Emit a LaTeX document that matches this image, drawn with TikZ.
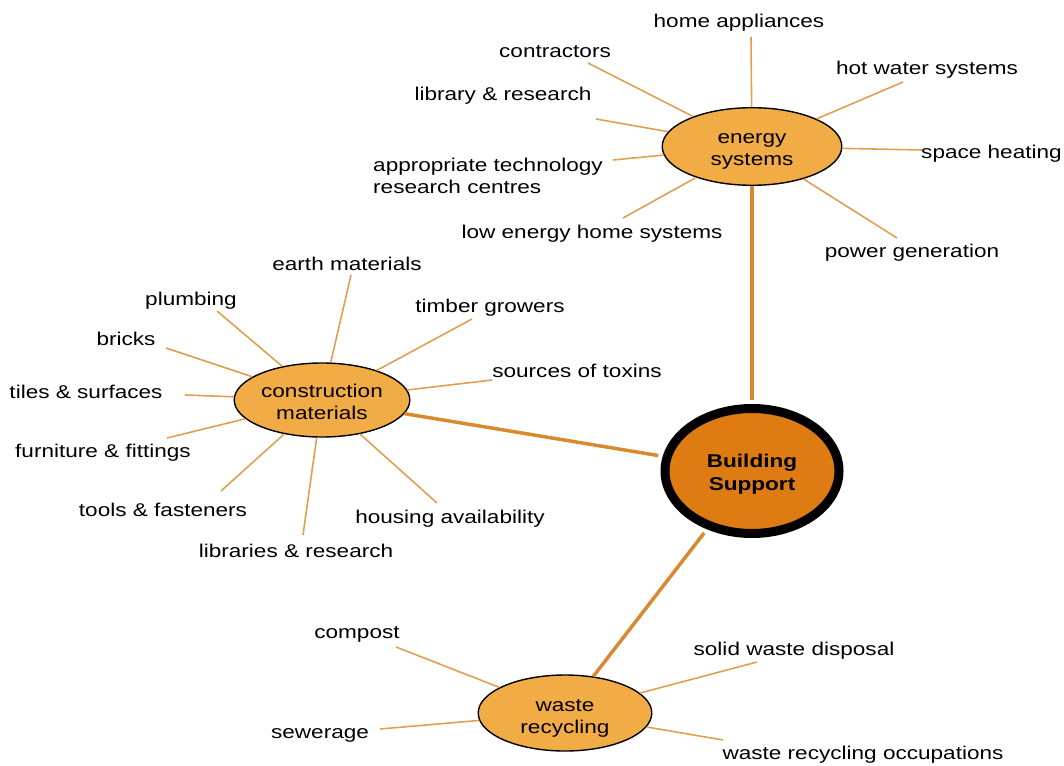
\documentclass[tikz,border=0pt]{standalone}
\usepackage{fontspec}
\setmainfont{Liberation Sans}[FakeStretch=1.22]
\usetikzlibrary{shapes.geometric}
\definecolor{spoke}{HTML}{E0A050}
\definecolor{thick}{HTML}{D98A2E}
\definecolor{topicfill}{HTML}{F2AC45}
\definecolor{hubfill}{HTML}{DE7B12}
\begin{document}
\begin{tikzpicture}[x=1pt,y=-1pt,
  every node/.style={font=\fontsize{18.5}{22}\selectfont, inner sep=0pt},
  topic/.style={ellipse, draw=black, line width=1.4pt, fill=topicfill},
  hub/.style={ellipse, draw=black, line width=9pt, fill=hubfill},
  intext/.style={align=center, text=black, yshift=-2.5pt},
  lbl/.style={align=left, text=black, yshift=-2.5pt},
  spokeline/.style={draw=spoke, line width=1.6pt},
  link/.style={draw=thick, line width=3.5pt}]
\useasboundingbox (0,0) rectangle (1064,765);

% hub and topics
\node[hub, minimum width=174pt, minimum height=125pt] (bs) at (752,471) {};
\node[topic, minimum width=179.6pt, minimum height=77.6pt] (es) at (752,146.5) {};
\node[topic, minimum width=175.6pt, minimum height=74pt] (cm) at (322,400) {};
\node[topic, minimum width=173.6pt, minimum height=76pt] (wr) at (565,713) {};

\node[intext, font=\fontsize{18.5}{23}\selectfont\bfseries, yshift=1.5pt] (bst) at (752,473) {Building\\Support};
\node[intext] (est) at (752,149) {energy\\systems};
\node[intext] (cmt) at (322,399) {construction\\materials};
\node[intext] (wrt) at (565,716) {waste\\recycling};

% thick links
\draw[link, shorten >=4.5pt] (es.south) -- (bs);
\draw[link, shorten >=4.5pt] (cm) -- (bs);
\draw[link, shorten >=4.5pt] (wr) -- (bs);

% energy systems labels
\node[lbl] (e1) at (739,20) {home appliances};
\node[lbl] (e2) at (555,49) {contractors};
\node[lbl] (e3) at (503,93) {library \& research};
\node[lbl, anchor=west] (e4) at (373,173) {appropriate technology\\research centres};
\node[lbl] (e5) at (592,231) {low energy home systems};
\node[lbl] (e6) at (927,67) {hot water systems};
\node[lbl, anchor=west] (e7) at (921,151) {space heating};
\node[lbl] (e8) at (912,250) {power generation};

\coordinate (pe1) at (751,37);
\coordinate (pe2) at (588,63);
\coordinate (pe3) at (596,119);
\coordinate (pe4) at (613,160);
\coordinate (pe5) at (623,218);
\coordinate (pe6) at (903,82);
\coordinate (pe7) at (922,150);
\coordinate (pe8) at (897,238);
\foreach \i in {1,...,8} {\draw[spokeline] (es) -- (pe\i);}

% construction materials labels
\node[lbl] (c1) at (347,261) {earth materials};
\node[lbl] (c2) at (191,298) {plumbing};
\node[lbl] (c3) at (126,336) {bricks};
\node[lbl] (c4) at (86,389.5) {tiles \& surfaces};
\node[lbl] (c5) at (103,450) {furniture \& fittings};
\node[lbl] (c6) at (163,507) {tools \& fasteners};
\node[lbl] (c7) at (296,548) {libraries \& research};
\node[lbl] (c8) at (450,516) {housing availability};
\node[lbl] (c9) at (490,305) {timber growers};
\node[lbl] (c10) at (577,368) {sources of toxins};

\coordinate (pc1) at (351,275);
\coordinate (pc2) at (217,311);
\coordinate (pc3) at (166,348);
\coordinate (pc4) at (185,395);
\coordinate (pc5) at (167,438);
\coordinate (pc6) at (221,491);
\coordinate (pc7) at (303,535);
\coordinate (pc8) at (437,503);
\coordinate (pc9) at (472,319);
\coordinate (pc10) at (492,380);
\foreach \i in {1,...,10} {\draw[spokeline] (cm) -- (pc\i);}

% waste recycling labels
\node[lbl] (w1) at (357,632) {compost};
\node[lbl] (w2) at (320,733) {sewerage};
\node[lbl] (w3) at (794,648) {solid waste disposal};
\node[lbl] (w4) at (863,752) {waste recycling occupations};

\coordinate (pw1) at (396,647);
\coordinate (pw2) at (380,729);
\coordinate (pw3) at (757,662);
\coordinate (pw4) at (723,740);
\foreach \i in {1,...,4} {\draw[spokeline] (wr) -- (pw\i);}
\end{tikzpicture}
\end{document}
